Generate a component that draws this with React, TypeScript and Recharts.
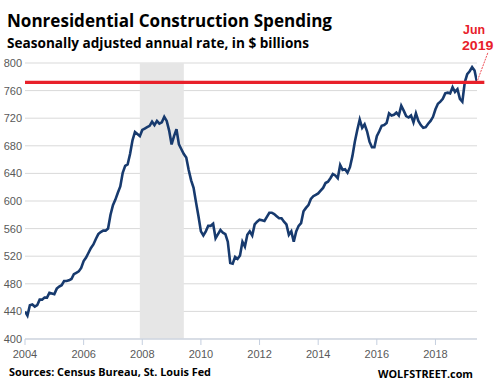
import {
  LineChart,
  Line,
  XAxis,
  YAxis,
  CartesianGrid,
  ReferenceArea,
  ReferenceLine,
} from "recharts";

// Nonresidential construction spending, monthly, SAAR, $ billions (Jan 2004 .. Jun 2019)
const START_YEAR = 2004;
const Y2004 = [440, 434, 449, 450, 447, 449, 457, 457, 460, 460, 467, 466];
const Y2005 = [465, 473, 476, 478, 484, 484, 485, 487, 494, 496, 498, 503];
const Y2006 = [513, 518, 525, 532, 537, 545, 552, 555, 557, 557, 560, 580];
const Y2007 = [594, 602, 612, 621, 641, 651, 653, 668, 688, 700, 697, 694];
const Y2008 = [703, 705, 707, 709, 715, 710, 716, 712, 714, 722, 716, 702];
const Y2009 = [682, 694, 704, 682, 675, 668, 663, 645, 630, 619, 598, 578];
const Y2010 = [556, 550, 556, 564, 564, 567, 546, 552, 558, 554, 552, 541];
const Y2011 = [510, 509, 519, 516, 521, 541, 534, 551, 556, 550, 566, 570];
const Y2012 = [573, 572, 571, 577, 583, 583, 581, 578, 575, 575, 570, 566];
const Y2013 = [551, 556, 541, 556, 564, 568, 585, 590, 594, 603, 607, 609];
const Y2014 = [611, 615, 619, 626, 628, 633, 639, 637, 633, 652, 645, 646];
const Y2015 = [641, 649, 665, 686, 703, 718, 706, 711, 701, 686, 678, 678];
const Y2016 = [694, 701, 709, 710, 713, 727, 724, 725, 728, 724, 738, 731];
const Y2017 = [723, 721, 724, 714, 727, 716, 710, 706, 707, 712, 716, 722];
const Y2018 = [733, 741, 744, 748, 756, 757, 756, 765, 758, 762, 748, 744];
const Y2019 = [772, 784, 788, 794, 789, 772];

const YEARS = [
  Y2004, Y2005, Y2006, Y2007, Y2008, Y2009, Y2010, Y2011,
  Y2012, Y2013, Y2014, Y2015, Y2016, Y2017, Y2018, Y2019,
];

const X_TICKS = [2004, 2006, 2008, 2010, 2012, 2014, 2016, 2018];
const Y_TICKS = [400, 440, 480, 520, 560, 600, 640, 680, 720, 760, 800];
const RECESSION = [2007 + 11 / 12, 2009 + 5 / 12]; // Dec 2007 - Jun 2009

const TICK_FONT = "'Liberation Sans', Arial, sans-serif";
const TITLE_FONT = "'Open Sans', 'Noto Sans', sans-serif";
const RED = "#e8202a";

export default function App() {
  const values = YEARS.flat();
  const data = values.map((v, i) => ({ t: START_YEAR + i / 12, v }));
  const end = data[data.length - 1];

  const tick = { fill: "#595959", fontSize: 11, fontFamily: TICK_FONT };

  return (
    <div
      style={{
        position: "absolute",
        left: 0,
        top: 0,
        width: 498,
        height: 391,
        background: "#fff",
      }}
    >
      <LineChart
        width={498}
        height={391}
        data={data}
        margin={{ top: 63, right: 21, bottom: 22, left: 0 }}
      >
        <CartesianGrid vertical={false} stroke="#d9d9d9" />
        <ReferenceArea
          x1={RECESSION[0]}
          x2={RECESSION[1]}
          y1={400}
          y2={800}
          fill="#e6e6e6"
          fillOpacity={1}
          stroke="none"
        />
        <XAxis
          dataKey="t"
          type="number"
          domain={[START_YEAR, end.t]}
          ticks={X_TICKS}
          interval={0}
          allowDataOverflow
          stroke="#c5cfdf"
          tickSize={6}
          tickMargin={5}
          height={30}
          tick={tick}
        />
        <YAxis
          domain={[400, 800]}
          ticks={Y_TICKS}
          interval={0}
          axisLine={false}
          tickLine={false}
          tickSize={0}
          tickMargin={3}
          width={25}
          tick={tick}
        />
        <Line
          type="linear"
          dataKey="v"
          stroke="#173a6e"
          strokeWidth={2.6}
          dot={false}
          isAnimationActive={false}
        />
        <ReferenceLine
          segment={[
            { x: START_YEAR, y: end.v },
            { x: end.t + 0.25, y: end.v },
          ]}
          stroke={RED}
          strokeWidth={3.3}
          ifOverflow="visible"
        />
        <ReferenceLine
          segment={[
            { x: end.t + 0.02, y: end.v + 3 },
            { x: end.t + 0.38, y: 816 },
          ]}
          stroke={RED}
          strokeWidth={0.8}
          strokeDasharray="2 1"
          ifOverflow="visible"
        />
      </LineChart>
      <svg
        width={498}
        height={391}
        style={{ position: "absolute", left: 0, top: 0, pointerEvents: "none" }}
      >
        <text
          x={7}
          y={27}
          fontFamily={TITLE_FONT}
          fontWeight={700}
          fontSize={18.5}
          fill="#000"
          textLength={325}
          lengthAdjust="spacingAndGlyphs"
        >
          Nonresidential Construction Spending
        </text>
        <text
          x={7}
          y={47.5}
          fontFamily={TITLE_FONT}
          fontWeight={700}
          fontSize={14}
          fill="#000"
          textLength={302}
          lengthAdjust="spacingAndGlyphs"
        >
          Seasonally adjusted annual rate, in $ billions
        </text>
        <text
          x={463}
          y={34}
          fontFamily={TICK_FONT}
          fontWeight={700}
          fontSize={13.5}
          fill={RED}
          textLength={22}
          lengthAdjust="spacingAndGlyphs"
        >
          Jun
        </text>
        <text
          x={462}
          y={50}
          fontFamily={TICK_FONT}
          fontWeight={700}
          fontSize={13.5}
          fill={RED}
          textLength={31.5}
          lengthAdjust="spacingAndGlyphs"
        >
          2019
        </text>
        <text
          x={9}
          y={375.7}
          fontFamily={TITLE_FONT}
          fontWeight={700}
          fontSize={10.5}
          fill="#000"
          textLength={202}
          lengthAdjust="spacingAndGlyphs"
        >
          Sources: Census Bureau, St. Louis Fed
        </text>
        <text
          x={378}
          y={378.3}
          fontFamily={TITLE_FONT}
          fontWeight={700}
          fontSize={10.5}
          fill="#000"
          textLength={95}
          lengthAdjust="spacingAndGlyphs"
        >
          WOLFSTREET.com
        </text>
      </svg>
    </div>
  );
}
